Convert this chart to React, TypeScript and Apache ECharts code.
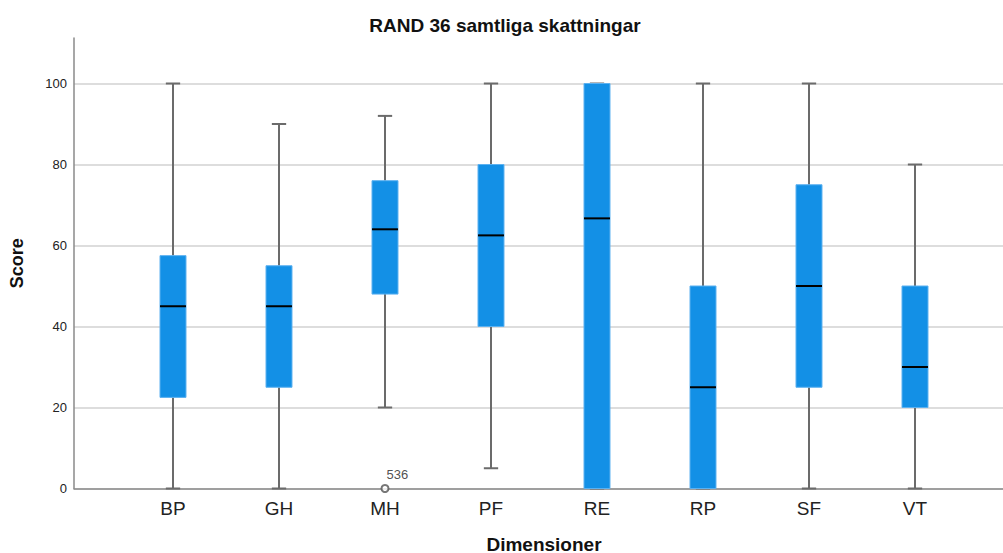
import React, { useEffect, useRef } from "react";
import * as echarts from "echarts";

// RAND-36 dimension scores, five-number summaries per dimension
const categories = ["BP", "GH", "MH", "PF", "RE", "RP", "SF", "VT"];
const whiskerLow = [0, 0, 20, 5, 0, 0, 0, 0];
const quartile1 = [22.5, 25, 48, 40, 0, 0, 25, 20];
const medians = [45, 45, 64, 62.5, 66.7, 25, 50, 30];
const quartile3 = [57.5, 55, 76, 80, 100, 50, 75, 50];
const whiskerHigh = [100, 90, 92, 100, 100, 100, 100, 80];

// outlying cases: dimension, score, case number
const outlierCategories = ["MH"];
const outlierValues = [0];
const outlierCases = ["536"];

const FONT = "'Liberation Sans', Arial, sans-serif";
const BOX_FILL = "#1390e6";
const BOX_EDGE = "#5cb1f0";
const WHISKER = "#6b6b6b";

export default function App() {
  const ref = useRef<HTMLDivElement>(null);

  useEffect(() => {
    if (!ref.current) return;
    const chart = echarts.init(ref.current, null, { renderer: "svg" });

    const boxData = categories.map((_, i) => [
      i,
      whiskerLow[i],
      quartile1[i],
      medians[i],
      quartile3[i],
      whiskerHigh[i],
    ]);

    const outlierData = outlierCategories.map((c, i) => ({
      value: [categories.indexOf(c), outlierValues[i]],
      label: { formatter: outlierCases[i] },
    }));

    const renderBox = (params: any, api: any) => {
      const idx = api.value(0);
      const band = api.size([1, 0])[0];
      const boxW = band * 0.245;
      const capW = band * 0.135;
      const lo = api.coord([idx, api.value(1)]);
      const q1 = api.coord([idx, api.value(2)]);
      const md = api.coord([idx, api.value(3)]);
      const q3 = api.coord([idx, api.value(4)]);
      const hi = api.coord([idx, api.value(5)]);
      const cx = md[0];
      const lineStyle = { stroke: WHISKER, lineWidth: 2 };
      return {
        type: "group",
        children: [
          { type: "line", shape: { x1: cx, y1: hi[1], x2: cx, y2: q3[1] }, style: lineStyle },
          { type: "line", shape: { x1: cx, y1: q1[1], x2: cx, y2: lo[1] }, style: lineStyle },
          { type: "line", shape: { x1: cx - capW / 2, y1: hi[1], x2: cx + capW / 2, y2: hi[1] }, style: lineStyle },
          { type: "line", shape: { x1: cx - capW / 2, y1: lo[1], x2: cx + capW / 2, y2: lo[1] }, style: lineStyle },
          {
            type: "rect",
            shape: { x: cx - boxW / 2, y: q3[1], width: boxW, height: q1[1] - q3[1] },
            style: { fill: BOX_FILL, stroke: BOX_EDGE, lineWidth: 1 },
          },
          {
            type: "line",
            shape: { x1: cx - boxW / 2, y1: md[1], x2: cx + boxW / 2, y2: md[1] },
            style: { stroke: "#000", lineWidth: 2 },
          },
        ],
      };
    };

    const gridBottom = 64.5;
    const option: any = {
      animation: false,
      backgroundColor: "#ffffff",
      title: {
        text: "RAND 36 samtliga skattningar",
        left: 500,
        textAlign: "center",
        top: 11,
        textStyle: { fontFamily: FONT, fontSize: 19, fontWeight: "bold", color: "#111" },
      },
      grid: [
        // frame: left axis line up to the top of the plot and the baseline
        { left: 74, right: 0, top: 38, bottom: gridBottom, outerBoundsMode: "none" },
        // value ticks and horizontal grid lines
        { left: 74, right: 0, top: 83.5, bottom: gridBottom, outerBoundsMode: "none" },
        // boxes
        { left: 120, right: 35, top: 83.5, bottom: gridBottom, outerBoundsMode: "none" },
      ],
      xAxis: [
        {
          gridIndex: 0,
          type: "value",
          min: 0,
          max: 1,
          axisLine: { show: true, lineStyle: { color: "#8a8a8a", width: 1.5 } },
          axisTick: { show: false },
          axisLabel: { show: false },
          splitLine: { show: false },
        },
        {
          gridIndex: 1,
          type: "value",
          min: 0,
          max: 1,
          show: false,
        },
        {
          gridIndex: 2,
          type: "category",
          data: categories,
          axisLine: { show: false },
          axisTick: { show: false },
          axisLabel: { fontFamily: FONT, fontSize: 19, color: "#222", margin: 10 },
          name: "Dimensioner",
          nameLocation: "middle",
          nameGap: 46,
          nameTextStyle: { fontFamily: FONT, fontSize: 19, fontWeight: "bold", color: "#111" },
        },
      ],
      yAxis: [
        {
          gridIndex: 0,
          type: "value",
          min: 0,
          max: 111.2,
          axisLine: { show: true, lineStyle: { color: "#8a8a8a", width: 1.5 } },
          axisTick: { show: false },
          axisLabel: { show: false },
          splitLine: { show: false },
          name: "Score",
          nameLocation: "middle",
          nameGap: 48,
          nameTextStyle: { fontFamily: FONT, fontSize: 18, fontWeight: "bold", color: "#111" },
        },
        {
          gridIndex: 1,
          type: "value",
          min: 0,
          max: 100,
          interval: 20,
          axisLine: { show: false },
          axisTick: { show: false },
          axisLabel: { fontFamily: FONT, fontSize: 13, color: "#222", margin: 7 },
          splitLine: { show: true, lineStyle: { color: "#d2d2d2", width: 1.5 } },
        },
        {
          gridIndex: 2,
          type: "value",
          min: 0,
          max: 100,
          show: false,
        },
      ],
      series: [
        {
          type: "custom",
          xAxisIndex: 2,
          yAxisIndex: 2,
          clip: false,
          renderItem: renderBox,
          data: boxData,
          encode: { x: 0, y: [1, 2, 3, 4, 5] },
        },
        {
          type: "scatter",
          xAxisIndex: 2,
          yAxisIndex: 2,
          clip: false,
          symbol: "emptyCircle",
          symbolSize: 7,
          itemStyle: { color: "#555", borderColor: "#555", borderWidth: 1.2 },
          label: {
            show: true,
            position: [6, -16],
            fontFamily: FONT,
            fontSize: 13,
            color: "#222",
          },
          data: outlierData,
        },
      ],
    };

    chart.setOption(option);
    return () => chart.dispose();
  }, []);

  return (
    <div
      ref={ref}
      style={{ position: "fixed", left: 0, top: 0, width: 1003, height: 553 }}
    />
  );
}
